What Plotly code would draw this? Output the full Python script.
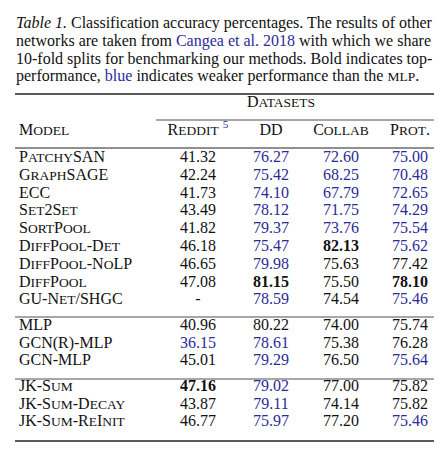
import re
import plotly.graph_objects as go

# table content
models = ["PatchySAN", "GraphSAGE", "ECC", "Set2Set", "SortPool", "DiffPool-Det",
          "DiffPool-NoLP", "DiffPool", "GU-Net/SHGC",
          "MLP", "GCN(R)-MLP", "GCN-MLP",
          "JK-Sum", "JK-Sum-Decay", "JK-Sum-ReInit"]
groups = [0, 0, 0, 0, 0, 0, 0, 0, 0, 1, 1, 1, 2, 2, 2]
columns = ["Reddit", "DD", "Collab", "Prot."]
reddit = [41.32, 42.24, 41.73, 43.49, 41.82, 46.18, 46.65, 47.08, None,
          40.96, 36.15, 45.01, 47.16, 43.87, 46.77]
dd = [76.27, 75.42, 74.10, 78.12, 79.37, 75.47, 79.98, 81.15, 78.59,
      80.22, 78.61, 79.29, 79.02, 79.11, 75.97]
collab = [72.60, 68.25, 67.79, 71.75, 73.76, 82.13, 75.63, 75.50, 74.54,
          74.00, 75.38, 76.50, 77.00, 74.14, 77.20]
proteins = [75.00, 70.48, 72.65, 74.29, 75.54, 75.62, 77.42, 78.10, 75.46,
            75.74, 76.28, 75.64, 75.82, 75.82, 75.46]
baseline = "MLP"

FONT = "Liberation Serif"
SIZE = 16
SMALL = 13.5
BLACK = "#111111"
BLUE = "#2b2b98"


def sc(s):
    # fake small caps: lowercase runs become smaller capitals
    return re.sub(r"[a-z]+",
                  lambda m: "<span style='font-size:%spx'>%s</span>" % (SMALL, m.group(0).upper()),
                  s)


W, H = 442, 472
x_name = 11
x_cols = [190, 263, 333, 402]
dy = -4  # text box centre sits a little below the glyph centre
row0, step, gap = 154, 17.8, 7.6
row_y = [row0 + dy + i * step + g * gap for i, g in enumerate(groups)]

fig = go.Figure()

fig.add_trace(go.Scatter(
    x=[x_name] * len(models), y=row_y, mode="text",
    text=[sc(m) for m in models], textposition="middle right",
    textfont=dict(family=FONT, size=SIZE, color=BLACK), hoverinfo="skip"))

base = models.index(baseline)
for cx, vals in zip(x_cols, [reddit, dd, collab, proteins]):
    best = max(v for v in vals if v is not None)
    ref = vals[base]
    texts, colors = [], []
    for v in vals:
        if v is None:
            texts.append("-")
            colors.append(BLACK)
            continue
        t = "%.2f" % v
        texts.append("<b>%s</b>" % t if v == best else t)
        colors.append(BLUE if v < ref else BLACK)
    fig.add_trace(go.Scatter(
        x=[cx] * len(vals), y=row_y, mode="text", text=texts,
        textposition="middle center",
        textfont=dict(family=FONT, size=SIZE, color=colors), hoverinfo="skip"))

# header row
head_y = 127 + dy
head = [sc(c) for c in columns]
head[0] += " <sup><span style='color:%s'>5</span></sup>" % BLUE
fig.add_trace(go.Scatter(
    x=[x_name] + x_cols, y=[head_y] * 5, mode="text",
    text=[sc("Model")] + head,
    textposition=["middle right"] + ["middle center"] * 4,
    textfont=dict(family=FONT, size=SIZE, color=BLACK), hoverinfo="skip"))
fig.add_trace(go.Scatter(
    x=[273], y=[99 + dy], mode="text", text=[sc("Datasets")],
    textposition="middle center",
    textfont=dict(family=FONT, size=SIZE, color=BLACK), hoverinfo="skip"))

# caption
caption = [
    "<i>Table 1.</i> Classification accuracy percentages. The results of other",
    "networks are taken from <span style='color:%s'>Cangea et al. 2018</span> with which we share" % BLUE,
    "10-fold splits for benchmarking our methods. Bold indicates top-",
    "performance, <span style='color:%s'>blue</span> indicates weaker performance than the "
    "<span style='font-size:%spx'>MLP</span>." % (BLUE, SMALL),
]
for i, line in enumerate(caption):
    fig.add_annotation(x=6, y=15 + i * 17.8, xref="x", yref="y", text=line,
                       showarrow=False, xanchor="left", yanchor="middle", align="left",
                       font=dict(family=FONT, size=SIZE, color=BLACK))

# rules
rules = [(7, 435, 86, 1.6), (148, 435, 112, 0.8), (7, 435, 140, 1.1),
         (7, 435, 309, 0.8), (7, 435, 371, 0.8), (7, 435, 433, 1.6)]
for x0, x1, y, w in rules:
    fig.add_shape(type="line", x0=x0, x1=x1, y0=y, y1=y, xref="x", yref="y",
                  line=dict(color="#222222", width=w))

fig.update_layout(
    width=W, height=H, margin=dict(l=0, r=0, t=0, b=0),
    paper_bgcolor="white", plot_bgcolor="white", showlegend=False,
    xaxis=dict(range=[0, W], visible=False, fixedrange=True),
    yaxis=dict(range=[H, 0], visible=False, fixedrange=True),
)

fig.write_html("out.html")
